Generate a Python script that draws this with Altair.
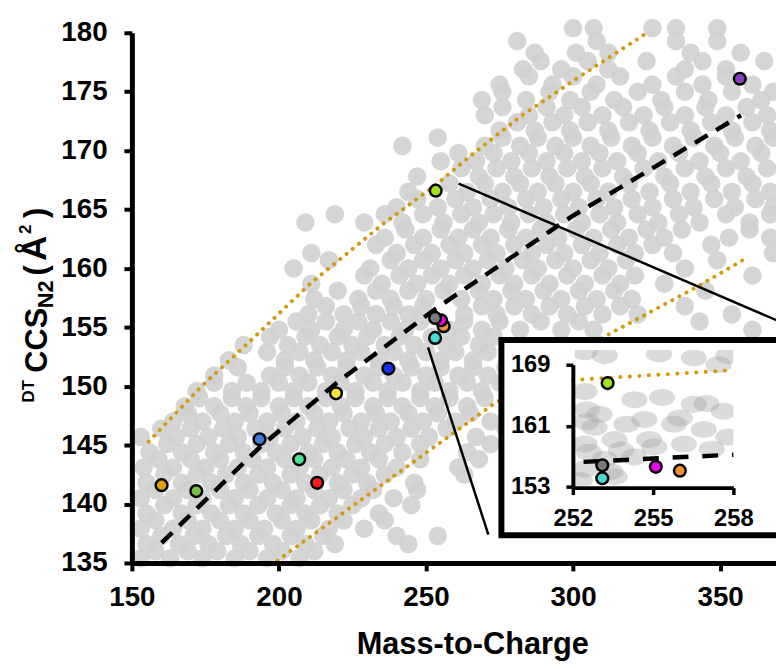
import altair as alt
import pandas as pd

FONT = "Liberation Sans"

# ---------------- data ----------------
# background cloud: (CCS, list of m/z values at about that CCS)
cloud_rows = [
    (135.4, [153, 163, 174, 185, 196, 207]),
    (136.0, [158, 169, 179, 190, 201, 212]),
    (136.6, [155, 166, 176, 187, 198, 209, 219, 244]),
    (137.3, [160, 171, 182, 193, 204, 215, 240, 254]),
    (137.9, [153, 164, 174, 185, 195, 206, 217, 229]),
    (138.6, [158, 169, 180, 190, 201, 211, 222, 236]),
    (139.2, [155, 167, 177, 188, 199, 209, 220, 234]),
    (139.9, [161, 172, 183, 193, 204, 214, 225, 245]),
    (140.5, [153, 164, 174, 185, 196, 206, 217, 228, 239]),
    (141.2, [158, 169, 180, 190, 201, 212, 222, 232, 247]),
    (141.8, [155, 167, 177, 188, 198, 209, 220, 230, 246]),
    (142.5, [161, 172, 182, 193, 204, 214, 225, 236, 263]),
    (143.1, [154, 164, 175, 186, 196, 207, 218, 228, 240, 261]),
    (143.8, [159, 170, 180, 191, 202, 212, 223, 234, 248, 268]),
    (144.4, [156, 167, 178, 188, 199, 210, 220, 231, 242, 264]),
    (145.1, [162, 172, 183, 194, 204, 215, 226, 236, 248, 272]),
    (145.7, [153, 165, 176, 186, 197, 208, 218, 229, 240, 251, 267]),
    (146.4, [160, 170, 181, 192, 202, 213, 224, 234, 245, 257, 277]),
    (147.0, [164, 174, 185, 196, 206, 217, 228, 238, 249, 260, 272]),
    (147.7, [169, 180, 190, 201, 212, 222, 233, 244, 254, 265, 283]),
    (148.3, [168, 178, 189, 200, 210, 221, 232, 242, 253, 264, 280]),
    (149.0, [173, 184, 194, 205, 216, 226, 237, 248, 258, 270, 290]),
    (149.6, [172, 184, 194, 205, 216, 226, 237, 248, 258, 269, 285]),
    (150.3, [178, 189, 200, 210, 221, 232, 242, 253, 264, 275]),
    (150.9, [178, 197, 207, 218, 229, 239, 250, 261, 271]),
    (151.6, [186, 202, 213, 223, 234, 245, 255, 266, 277]),
    (152.2, [183, 202, 212, 223, 234, 244, 255, 266]),
    (152.9, [196, 207, 218, 228, 239, 250, 260, 271]),
    (153.5, [188, 203, 214, 225, 236, 246, 257, 268]),
    (154.2, [197, 209, 220, 230, 241, 252, 262, 273]),
    (154.8, [200, 211, 222, 232, 243, 258, 269, 282, 296, 307, 361]),
    (155.5, [206, 216, 227, 238, 248, 263, 275, 289, 302, 343]),
    (156.1, [210, 222, 233, 244, 263, 274, 286, 298, 310, 322, 354]),
    (156.8, [216, 228, 239, 249, 269, 280, 292, 304, 316, 338]),
    (157.4, [212, 227, 238, 250, 262, 273, 284, 296, 308, 320]),
    (158.1, [220, 233, 244, 256, 268, 279, 290, 302, 314, 345]),
    (158.7, [211, 235, 247, 258, 269, 280, 292, 304, 316, 331]),
    (159.4, [229, 241, 252, 263, 275, 286, 298, 310, 321, 361]),
    (160.0, [205, 231, 244, 255, 266, 277, 288, 300, 312, 338]),
    (160.7, [217, 238, 249, 260, 271, 283, 294, 306, 318, 349]),
    (161.3, [211, 240, 252, 263, 274, 286, 297, 309, 321, 334, 368]),
    (162.0, [233, 246, 258, 269, 280, 291, 303, 315, 327, 347]),
    (162.6, [236, 249, 261, 272, 284, 295, 307, 319, 331, 353, 367]),
    (163.3, [243, 255, 266, 278, 289, 301, 313, 325, 337, 360]),
    (163.9, [209, 229, 242, 256, 268, 279, 291, 303, 315, 329, 343, 360]),
    (164.6, [219, 236, 249, 262, 273, 285, 297, 309, 322, 336, 352, 367]),
    (165.2, [240, 254, 266, 278, 290, 302, 314, 327, 341, 355, 368]),
    (165.9, [247, 260, 272, 284, 296, 308, 320, 334, 348, 362]),
    (166.5, [244, 264, 276, 288, 300, 312, 326, 340, 354, 367]),
    (167.2, [258, 270, 282, 294, 306, 319, 333, 347, 361]),
    (167.8, [247, 268, 280, 292, 304, 317, 331, 345, 359]),
    (168.5, [262, 274, 286, 298, 310, 324, 338, 352, 366]),
    (169.1, [255, 267, 279, 291, 303, 315, 329, 343, 357]),
    (169.8, [261, 273, 285, 297, 309, 322, 336, 350, 364]),
    (170.4, [242, 270, 282, 294, 306, 320, 334, 348, 362]),
    (171.1, [254, 276, 288, 300, 313, 327, 341, 355, 368]),
    (171.7, [275, 287, 299, 312, 326, 340, 354, 367]),
    (172.4, [281, 293, 305, 319, 333, 347, 361]),
    (173.0, [270, 285, 297, 310, 324, 338, 352, 366]),
    (173.7, [276, 291, 303, 317, 331, 345, 359]),
    (174.3, [269, 284, 299, 314, 330, 346, 364]),
    (175.0, [276, 292, 306, 322, 338, 354, 368]),
    (175.6, [275, 293, 308, 327, 344, 361]),
    (176.3, [285, 300, 316, 335, 352]),
    (176.9, [283, 296, 312, 338, 352]),
    (177.6, [289, 305, 325, 344, 365]),
    (178.3, [287, 301, 312, 340, 357]),
    (179.3, [281, 308, 335, 349]),
    (180.4, [300, 307, 327, 335, 349]),
]
cloud_mz = [m for c, row in cloud_rows for m in row]
cloud_ccs = [c for c, row in cloud_rows for m in row]

# highlighted compounds
hl_mz = [160.1, 171.9, 193.4, 206.9, 213.0, 219.4, 237.2, 256.0, 255.1, 253.1, 253.1, 253.3, 356.7]
hl_ccs = [141.6, 141.1, 145.5, 143.8, 141.8, 149.4, 151.5, 155.1, 155.6, 155.8, 154.1, 166.6, 176.1]
hl_color = ["#E0A10C", "#7CC043", "#3D7EDB", "#4FE38E", "#FF1A1A", "#FFE135", "#1530F5",
            "#F59036", "#F000F0", "#7A7A7A", "#45DDD5", "#A2E21A", "#8C3FC2"]

# fitted trend (dashed) and prediction bands (dotted)
fit_mz = [160.1, 193.8, 219.7, 253.4, 299.5, 357.1]
fit_ccs = [136.7, 144.9, 150.3, 156.6, 164.4, 173.0]
upper_mz = [155.7, 173.7, 190.1, 210.6, 235.5, 253.4, 266.8, 282.7, 300.5, 325.8]
upper_ccs = [145.3, 150.0, 153.8, 158.7, 163.8, 167.1, 169.9, 173.0, 176.0, 180.1]
lower_mz = [199.5, 228.7, 272.5, 310.6, 341.9, 358.4]
lower_ccs = [135.2, 140.5, 148.4, 154.2, 158.4, 160.8]

# connector lines to the inset
conn_x1 = [261.1, 250.7]
conn_y1 = [167.2, 153.3]
conn_x2 = [369.2, 271.2]
conn_y2 = [155.6, 137.4]

# inset (zoom) values
inset_cloud_mz = [252.44, 253.19, 255.22, 256.52, 257.44, 257.81, 252.44, 252.52, 252.81, 254.3,
                  255.33, 256.52, 257.63, 254.67, 255.78, 256.89, 257.81, 253.56, 254.85, 256.15,
                  252.44, 253.19, 254.3, 252.44, 253.56, 255.04, 257.19, 252.26,
                  253.0, 252.6, 253.8, 254.0, 256.0, 257.0, 253.4, 252.5]
inset_cloud_ccs = [170.7, 170.2, 170.4, 169.9, 169.0, 170.2, 165.5, 163.1, 160.8, 164.4,
                   164.7, 163.8, 162.9, 161.8, 161.2, 160.5, 159.5, 159.2, 159.2, 158.6,
                   158.6, 156.6, 156.9, 155.3, 154.3, 158.2, 157.9, 153.8,
                   162.5, 157.5, 157.8, 161.2, 162.0, 163.9, 155.0, 161.5]
inset_upper_mz = [252.0, 258.0]
inset_upper_ccs = [167.0, 168.3]
inset_fit_mz = [252.4, 258.0]
inset_fit_ccs = [156.25, 157.2]
inset_box = dict(x1=[249.33], x2=[262.0], y1=[146.63], y2=[172.25])
inset_masks = dict(x1=[249.4, 258.0, 249.4, 249.4], x2=[252.07, 262.0, 262.0, 262.0],
                   y1=[146.7, 146.7, 170.95, 146.7], y2=[172.2, 172.2, 172.2, 153.13])

# ---------------- tables ----------------
cloud_df = pd.DataFrame({"mz": cloud_mz, "ccs": cloud_ccs})
hl_df = pd.DataFrame({"mz": hl_mz, "ccs": hl_ccs, "col": hl_color})
fit_df = pd.DataFrame({"mz": fit_mz, "ccs": fit_ccs})
up_df = pd.DataFrame({"mz": upper_mz, "ccs": upper_ccs})
lo_df = pd.DataFrame({"mz": lower_mz, "ccs": lower_ccs})
conn_df = pd.DataFrame({"mz": conn_x1, "ccs": conn_y1, "mz2": conn_x2, "ccs2": conn_y2})
icloud_df = pd.DataFrame({"mz": inset_cloud_mz, "ccs": inset_cloud_ccs})
iup_df = pd.DataFrame({"mz": inset_upper_mz, "ccs": inset_upper_ccs})
ifit_df = pd.DataFrame({"mz": inset_fit_mz, "ccs": inset_fit_ccs})
ibox_df = pd.DataFrame({"mz": inset_box["x1"], "mz2": inset_box["x2"],
                        "ccs": inset_box["y1"], "ccs2": inset_box["y2"]})
imask_df = pd.DataFrame({"mz": inset_masks["x1"], "mz2": inset_masks["x2"],
                         "ccs": inset_masks["y1"], "ccs2": inset_masks["y2"]})

# ---------------- main panel ----------------
W, H = 650, 535
xs = alt.Scale(domain=[150, 369], nice=False, zero=False)
ys = alt.Scale(domain=[135, 180], nice=False, zero=False)
ax_x = alt.Axis(values=[150, 200, 250, 300, 350], title=None, grid=False,
                labelFont=FONT, labelFontWeight="bold", labelFontSize=28, labelColor="black",
                labelPadding=13, labelFlush=False, labelOverlap=False,
                domainColor="black", domainWidth=5, tickColor="black", tickWidth=4,
                tickSize=8, zindex=1)
ax_y = alt.Axis(values=[135, 140, 145, 150, 155, 160, 165, 170, 175, 180], title=None, grid=False,
                labelFont=FONT, labelFontWeight="bold", labelFontSize=28, labelColor="black",
                labelPadding=17, labelOverlap=False,
                domainColor="black", domainWidth=5, tickColor="black", tickWidth=4,
                tickSize=8, zindex=1)
X = alt.X("mz:Q", scale=xs, axis=ax_x)
Y = alt.Y("ccs:Q", scale=ys, axis=ax_y)

cloud = alt.Chart(cloud_df).mark_circle(size=350, color="#d0d0d0", opacity=0.9).encode(x=X, y=Y)
upper = alt.Chart(up_df).mark_line(color="#D39B0C", strokeWidth=4, strokeDash=[0.1, 8],
                                   strokeCap="round").encode(x=X, y=Y)
lower = alt.Chart(lo_df).mark_line(color="#D39B0C", strokeWidth=4, strokeDash=[0.1, 8],
                                   strokeCap="round").encode(x=X, y=Y)
fit = alt.Chart(fit_df).mark_line(color="black", strokeWidth=4.5, strokeDash=[15, 10]).encode(x=X, y=Y)
conn = alt.Chart(conn_df).mark_rule(color="black", strokeWidth=2.5).encode(
    x=X, y=Y, x2="mz2:Q", y2="ccs2:Q")
hl = alt.Chart(hl_df).mark_point(filled=True, size=140, stroke="black", strokeWidth=2.5,
                                 opacity=1).encode(
    x=X, y=Y, fill=alt.Fill("col:N", scale=None))
main = alt.layer(cloud, upper, lower, fit, conn, hl)

# ---------------- inset panel ----------------
ixs = alt.Scale(domain=[252, 258], range=[445, 607], nice=False, zero=False)
iys = alt.Scale(domain=[153, 169], range=[458, 335], nice=False, zero=False)
iax_x = alt.Axis(values=[252, 255, 258], title=None, grid=False, orient="bottom", offset=-76,
                 labelFont=FONT, labelFontWeight="bold", labelFontSize=24, labelColor="black",
                 labelPadding=12, labelFlush=False, labelOverlap=False,
                 domainColor="black", domainWidth=4, tickColor="black", tickWidth=3.5,
                 tickSize=7, zindex=2)
iax_y = alt.Axis(values=[153, 161, 169], title=None, grid=False, orient="left", offset=-445,
                 labelFont=FONT, labelFontWeight="bold", labelFontSize=24, labelColor="black",
                 labelPadding=16, labelOverlap=False,
                 domainColor="black", domainWidth=4, tickColor="black", tickWidth=3.5,
                 tickSize=7, zindex=2)
IX = alt.X("mz:Q", scale=ixs, axis=iax_x)
IY = alt.Y("ccs:Q", scale=iys, axis=iax_y)

box_fill = alt.Chart(ibox_df).mark_rect(color="white").encode(x=IX, y=IY, x2="mz2:Q", y2="ccs2:Q")
ellipse = "M-1,0A1,0.65,0,1,1,1,0A1,0.65,0,1,1,-1,0Z"
icloud = alt.Chart(icloud_df).mark_point(shape=ellipse, filled=True, size=700, color="#a6a6a6",
                                          opacity=0.4, strokeWidth=0).encode(x=IX, y=IY)
masks = alt.Chart(imask_df).mark_rect(color="white").encode(x=IX, y=IY, x2="mz2:Q", y2="ccs2:Q")
box_line = alt.Chart(ibox_df).mark_rect(fill="white", fillOpacity=0, stroke="black",
                                        strokeWidth=6, clip=True).encode(
    x=IX, y=IY, x2="mz2:Q", y2="ccs2:Q")
iup = alt.Chart(iup_df).mark_line(color="#D39B0C", strokeWidth=4, strokeDash=[0.1, 9.5],
                                  strokeCap="round").encode(x=IX, y=IY)
ifit = alt.Chart(ifit_df).mark_line(color="black", strokeWidth=4.5, strokeDash=[16, 14]).encode(x=IX, y=IY)
ihl = alt.Chart(hl_df).transform_filter(
    "datum.mz >= 252 && datum.mz <= 258 && datum.ccs >= 153 && datum.ccs <= 169"
).mark_point(filled=True, size=140, stroke="black", strokeWidth=2.5, opacity=1).encode(
    x=IX, y=IY, fill=alt.Fill("col:N", scale=None))
inset = alt.layer(box_fill, icloud, masks, box_line, iup, ifit, ihl)


# ---------------- titles ----------------
def piece(text, size, px, py, angle=270, align="left"):
    return alt.Chart(pd.DataFrame({"t": [text]})).mark_text(
        text=text, font=FONT, fontWeight="bold", fontSize=size, angle=angle,
        align=align, baseline="alphabetic", color="black"
    ).encode(x=alt.value(px - 133), y=alt.value(py - 30))


titles = [
    piece("DT", 17, 34, 403),
    piece("CCS", 31, 47, 373),
    piece("N2", 22, 53, 308),
    piece("(", 31, 46, 275),
    piece("Å", 35, 46, 260),
    piece("2", 17, 31, 233),
    piece(")", 31, 46, 217),
    piece("Mass-to-Charge", 31, 477, 657, angle=0, align="center"),
]

chart = alt.layer(main, inset, *titles).resolve_scale(
    x="independent", y="independent"
).properties(
    width=W, height=H,
    padding={"left": 125, "top": 22, "right": 0, "bottom": 104},
    autosize=alt.AutoSizeParams(type="none"),
).configure_view(stroke=None)

chart.save("out.html", embed_options={"renderer": "svg", "actions": False})
